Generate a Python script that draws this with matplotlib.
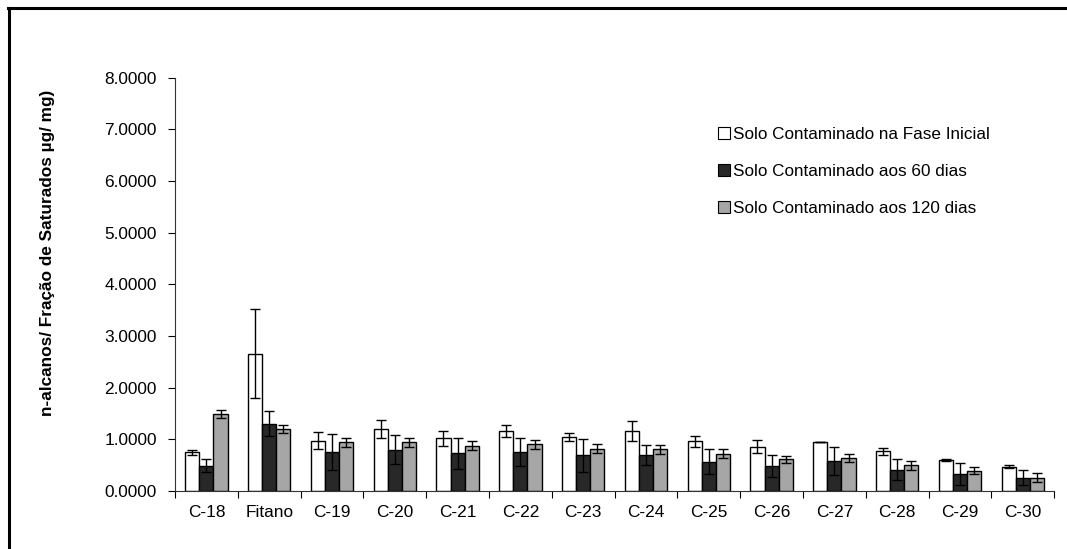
import matplotlib.pyplot as plt
import numpy as np
from matplotlib.patches import Patch
from matplotlib.lines import Line2D

plt.rcParams['font.family'] = ['Liberation Sans', 'DejaVu Sans']

categorias = ["C-18", "Fitano", "C-19", "C-20", "C-21", "C-22", "C-23",
              "C-24", "C-25", "C-26", "C-27", "C-28", "C-29", "C-30"]

inicial = [0.75, 2.66, 0.975, 1.20, 1.02, 1.16, 1.05, 1.16, 0.96, 0.86, 0.955, 0.77, 0.60, 0.47]
inicial_err = [0.05, 0.86, 0.17, 0.165, 0.15, 0.115, 0.075, 0.195, 0.105, 0.12, 0.0, 0.07, 0.01, 0.03]

dias60 = [0.49, 1.30, 0.75, 0.80, 0.73, 0.755, 0.69, 0.70, 0.57, 0.485, 0.58, 0.41, 0.335, 0.26]
dias60_err = [0.13, 0.24, 0.35, 0.275, 0.295, 0.28, 0.32, 0.19, 0.245, 0.21, 0.275, 0.20, 0.215, 0.15]

dias120 = [1.49, 1.20, 0.94, 0.94, 0.88, 0.905, 0.82, 0.81, 0.72, 0.61, 0.64, 0.50, 0.395, 0.26]
dias120_err = [0.08, 0.08, 0.09, 0.085, 0.085, 0.09, 0.09, 0.085, 0.085, 0.075, 0.08, 0.085, 0.075, 0.09]

series = [
    ("Solo Contaminado na Fase Inicial", inicial, inicial_err, "white"),
    ("Solo Contaminado aos 60 dias", dias60, dias60_err, "#282828"),
    ("Solo Contaminado aos 120 dias", dias120, dias120_err, "#a6a6a6"),
]

fig = plt.figure(figsize=(10.67, 5.49), dpi=100)
ax = fig.add_axes([0.164, 0.1056, 0.824, 0.7532])

x = np.arange(len(categorias))
w = 0.225
handles = []
for i, (nome, vals, err, cor) in enumerate(series):
    pos = x + (i - 1) * w
    ax.bar(pos, vals, w, color=cor, edgecolor="black", linewidth=1.0, zorder=2)
    ax.errorbar(pos, vals, yerr=err, fmt="none", ecolor="black",
                elinewidth=1.0, capsize=3.5, capthick=1.0, zorder=3)
    handles.append(Patch(facecolor=cor, edgecolor="black", linewidth=0.8, label=nome))

ax.set_xlim(-0.5, len(categorias) - 0.5)
ax.set_ylim(0, 8)
ax.set_yticks(np.arange(0, 9, 1))
ax.set_yticklabels([f"{v:.4f}" for v in range(9)], fontsize=12.4)
ax.set_xticks(x)
ax.set_xticklabels(categorias, fontsize=12.4)
ax.set_xticks(np.arange(-0.5, len(categorias), 1), minor=True)
ax.tick_params(axis="x", which="major", length=0, pad=10)
ax.tick_params(axis="x", which="minor", length=5, width=0.8, direction="out")
ax.tick_params(axis="y", length=5, width=0.8, direction="out", pad=8)

for s in ["top", "right"]:
    ax.spines[s].set_visible(False)
for s in ["left", "bottom"]:
    ax.spines[s].set_linewidth(0.8)
    ax.spines[s].set_color("#333333")

ax.set_ylabel("n-alcanos/ Fração de Saturados µg/ mg)", fontsize=12.4,
              fontweight="bold")
ax.yaxis.set_label_coords(-0.1365, 0.575)

ax.legend(handles=handles, loc="upper left", bbox_to_anchor=(0.6, 0.918),
          frameon=False, fontsize=12.3, handlelength=0.7, handleheight=0.7,
          handletextpad=0.2, labelspacing=1.3)

# moldura externa (só topo e esquerda visíveis)
fig.add_artist(Line2D([0.0085, 0.0085], [0.0, 0.986], transform=fig.transFigure,
                      color="black", linewidth=2.2))
fig.add_artist(Line2D([0.0075, 1.0], [0.986, 0.986], transform=fig.transFigure,
                      color="black", linewidth=2.2))

fig.savefig("out.png", dpi=100)
